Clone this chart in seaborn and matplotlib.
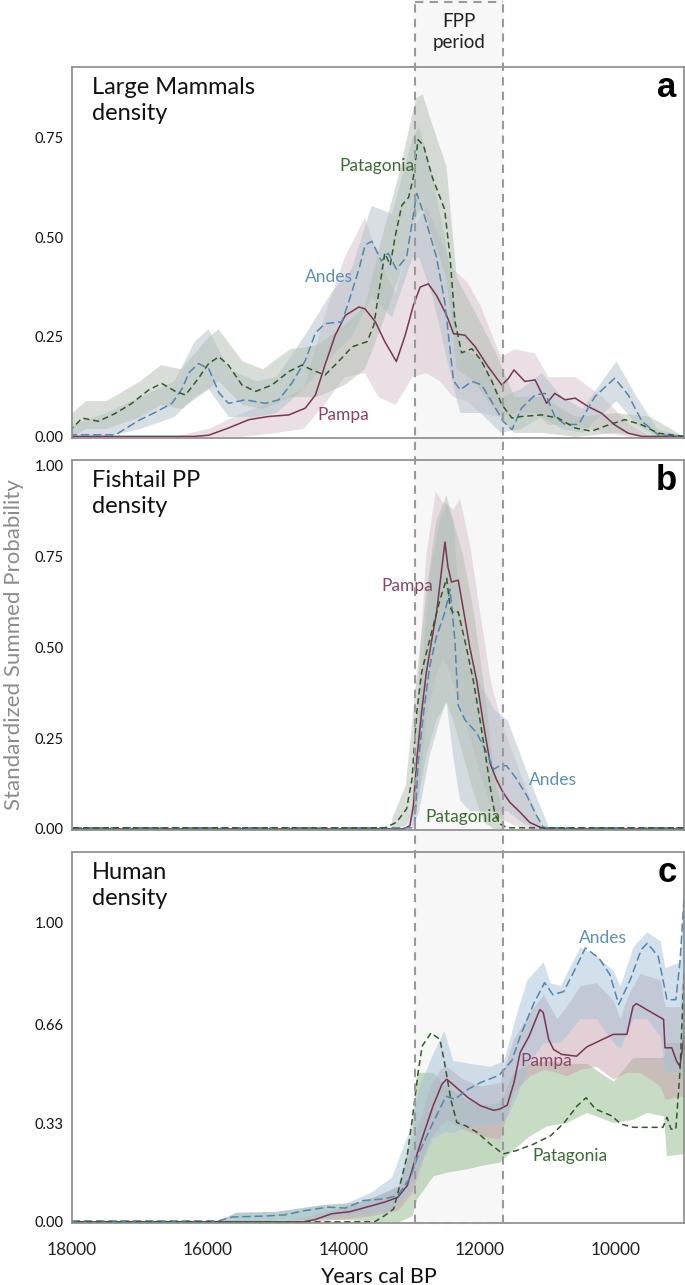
import numpy as np
import pandas as pd
import seaborn as sns
import matplotlib
matplotlib.use('Agg')
import matplotlib.pyplot as plt
from matplotlib.patches import Rectangle
from matplotlib.lines import Line2D

sns.set_style('white')
plt.rcParams['font.family'] = ['Lato', 'DejaVu Sans']

# ---- FPP period (years cal BP)
FPP_START, FPP_END = 12950, 11660
XTICKS = [18000, 16000, 14000, 12000, 10000]

# ---- panel a : large mammals
a_pampa_yr = [18000, 16200, 15990, 15700, 15400, 15110, 14810, 14570, 14420, 14280,
              14130, 13980, 13780, 13690, 13540, 13400, 13230, 13100, 12980, 12880,
              12760, 12640, 12490, 12390, 12220, 12070, 11880, 11680, 11580, 11500,
              11340, 11190, 11020, 10900, 10750, 10600, 10410, 10210, 10020, 9820,
              9620, 9000]
a_pampa = [0, 0, 0.003, 0.021, 0.042, 0.05, 0.054, 0.071, 0.104, 0.179,
           0.254, 0.304, 0.325, 0.32, 0.288, 0.238, 0.188, 0.254, 0.329, 0.375,
           0.383, 0.354, 0.304, 0.258, 0.254, 0.225, 0.175, 0.129, 0.146, 0.167,
           0.138, 0.142, 0.083, 0.108, 0.092, 0.096, 0.075, 0.058, 0.029, 0.008,
           0, 0]
a_andes_yr = [18000, 17360, 17020, 16780, 16530, 16380, 16280, 16140, 15990, 15840,
              15700, 15450, 15160, 14960, 14770, 14570, 14420, 14280, 14030, 13930,
              13780, 13690, 13590, 13450, 13350, 13230, 13080, 12930, 12810, 12640,
              12520, 12390, 12290, 12120, 11980, 11830, 11660, 11530, 11390, 11190,
              11040, 10900, 10750, 10550, 10310, 10020, 9820, 9620, 9380, 9000]
a_andes = [0.004, 0.004, 0.04, 0.06, 0.083, 0.12, 0.16, 0.183, 0.17, 0.11,
           0.083, 0.092, 0.083, 0.092, 0.133, 0.19, 0.26, 0.283, 0.288, 0.338,
           0.42, 0.48, 0.49, 0.44, 0.46, 0.42, 0.45, 0.61, 0.55, 0.45,
           0.34, 0.14, 0.117, 0.138, 0.13, 0.088, 0.038, 0.017, 0.071, 0.104,
           0.108, 0.05, 0.03, 0.03, 0.1, 0.146, 0.104, 0.038, 0.004, 0.0]
a_patag_yr = [18000, 17850, 17610, 17360, 17120, 16870, 16680, 16480, 16330, 16140,
              15990, 15840, 15700, 15500, 15300, 15060, 14810, 14620, 14470, 14280,
              14080, 13880, 13660, 13560, 13490, 13400, 13320, 13250, 13150, 13050,
              12980, 12910, 12830, 12700, 12520, 12440, 12370, 12270, 12120, 11980,
              11830, 11680, 11530, 11390, 11090, 10850, 10600, 10360, 10110, 9870,
              9620, 9380, 9000]
a_patag = [0.02, 0.046, 0.038, 0.058, 0.083, 0.117, 0.133, 0.113, 0.104, 0.146,
           0.183, 0.2, 0.179, 0.129, 0.113, 0.129, 0.163, 0.179, 0.167, 0.154,
           0.188, 0.225, 0.238, 0.28, 0.36, 0.46, 0.43, 0.5, 0.58, 0.6,
           0.65, 0.745, 0.73, 0.65, 0.57, 0.45, 0.29, 0.21, 0.22, 0.19,
           0.14, 0.08, 0.046, 0.05, 0.054, 0.046, 0.021, 0.013, 0.029, 0.042,
           0.029, 0.008, 0.0]

a_pampa_band_yr = [16500, 16000, 15500, 15000, 14600, 14300, 14000, 13700, 13500, 13250,
                   13000, 12800, 12600, 12400, 12200, 12000, 11700, 11500, 11200, 11000,
                   10600, 10200, 9800, 9500]
a_pampa_lo = [0, 0, 0, 0.01, 0.02, 0.08, 0.15, 0.16, 0.1, 0.08,
              0.15, 0.16, 0.14, 0.1, 0.09, 0.06, 0.05, 0.06, 0.06, 0.03,
              0.03, 0.01, 0, 0]
a_pampa_hi = [0, 0.02, 0.06, 0.09, 0.12, 0.3, 0.45, 0.55, 0.45, 0.36,
              0.52, 0.58, 0.5, 0.42, 0.39, 0.33, 0.2, 0.22, 0.21, 0.15,
              0.15, 0.1, 0.03, 0]
a_andes_band_yr = [18000, 17500, 17000, 16500, 16200, 16000, 15700, 15300, 15000, 14600,
                   14200, 13900, 13600, 13300, 13000, 12900, 12700, 12500, 12300, 12000,
                   11700, 11400, 11100, 10800, 10500, 10000, 9700, 9400, 9000]
a_andes_lo = [0, 0, 0.02, 0.05, 0.1, 0.12, 0.05, 0.05, 0.06, 0.12,
              0.2, 0.25, 0.35, 0.3, 0.45, 0.45, 0.35, 0.2, 0.06, 0.06,
              0.01, 0.02, 0.05, 0.02, 0.01, 0.09, 0.03, 0, 0]
a_andes_hi = [0.03, 0.06, 0.1, 0.14, 0.24, 0.27, 0.17, 0.14, 0.15, 0.25,
              0.36, 0.42, 0.58, 0.56, 0.75, 0.78, 0.65, 0.48, 0.22, 0.2,
              0.1, 0.12, 0.16, 0.1, 0.07, 0.19, 0.1, 0.02, 0]
a_patag_band_yr = [18000, 17800, 17500, 17000, 16700, 16400, 16000, 15850, 15500, 15200,
                   14800, 14400, 14000, 13700, 13450, 13200, 12950, 12850, 12700, 12500,
                   12350, 12100, 11800, 11500, 11100, 10600, 10000, 9500, 9000]
a_patag_lo = [0, 0.02, 0.02, 0.05, 0.08, 0.07, 0.12, 0.14, 0.08, 0.07,
              0.1, 0.1, 0.13, 0.17, 0.28, 0.4, 0.55, 0.58, 0.5, 0.4,
              0.17, 0.14, 0.07, 0.01, 0.01, 0, 0.01, 0, 0]
a_patag_hi = [0.06, 0.09, 0.09, 0.14, 0.18, 0.17, 0.25, 0.27, 0.19, 0.17,
              0.22, 0.23, 0.28, 0.33, 0.5, 0.66, 0.85, 0.86, 0.78, 0.68,
              0.4, 0.32, 0.22, 0.1, 0.1, 0.05, 0.06, 0.05, 0]

# ---- panel b : fishtail projectile points
b_pampa_yr = [18000, 13130, 13030, 12980, 12930, 12860, 12790, 12710, 12640, 12560,
              12515, 12470, 12420, 12320, 12250, 12150, 12050, 11950, 11850, 11760,
              11660, 11560, 11410, 11270, 11120, 11020, 9000]
b_pampa = [0, 0, 0.009, 0.064, 0.19, 0.32, 0.43, 0.52, 0.594, 0.72,
           0.79, 0.72, 0.68, 0.685, 0.61, 0.5, 0.41, 0.29, 0.18, 0.137,
           0.1, 0.073, 0.046, 0.018, 0.005, 0, 0]
b_andes_yr = [18000, 12990, 12960, 12910, 12830, 12740, 12640, 12520, 12440, 12370,
              12320, 12220, 12050, 11900, 11800, 11710, 11610, 11460, 11310, 11170,
              11070, 11000, 9000]
b_andes = [0.003, 0.003, 0.01, 0.18, 0.32, 0.447, 0.53, 0.594, 0.66, 0.52,
           0.34, 0.3, 0.265, 0.21, 0.164, 0.174, 0.174, 0.137, 0.091, 0.037,
           0.005, 0.003, 0.003]
b_patag_yr = [18000, 13400, 13230, 13080, 13000, 12930, 12860, 12790, 12690, 12590,
              12490, 12440, 12390, 12320, 12270, 12200, 12100, 12000, 11900, 11830,
              11780, 11710, 11600, 9000]
b_patag = [0.003, 0.003, 0.018, 0.055, 0.137, 0.32, 0.43, 0.484, 0.557, 0.63,
           0.69, 0.61, 0.594, 0.598, 0.557, 0.5, 0.41, 0.3, 0.18, 0.091,
           0.041, 0.014, 0.003, 0.003]

b_pampa_band_yr = [13100, 13000, 12900, 12800, 12660, 12550, 12490, 12400, 12300, 12150,
                   12000, 11850, 11700, 11500, 11300, 11100]
b_pampa_lo = [0, 0, 0.1, 0.3, 0.42, 0.47, 0.45, 0.4, 0.35, 0.25,
              0.15, 0.07, 0.03, 0.01, 0, 0]
b_pampa_hi = [0, 0.05, 0.45, 0.75, 0.93, 0.9, 0.895, 0.88, 0.91, 0.78,
              0.59, 0.41, 0.3, 0.2, 0.1, 0.01]
b_andes_band_yr = [13000, 12900, 12750, 12600, 12500, 12400, 12300, 12150, 12000, 11800,
                   11600, 11400, 11200, 11000]
b_andes_lo = [0, 0.05, 0.2, 0.3, 0.35, 0.2, 0.08, 0.05, 0.05, 0.05,
              0.05, 0.02, 0, 0]
b_andes_hi = [0.02, 0.35, 0.7, 0.85, 0.9, 0.85, 0.6, 0.45, 0.4, 0.33,
              0.3, 0.2, 0.1, 0.01]
b_patag_band_yr = [13300, 13100, 12950, 12800, 12650, 12500, 12400, 12250, 12100, 11950,
                   11800, 11650]
b_patag_lo = [0, 0.01, 0.05, 0.2, 0.3, 0.35, 0.3, 0.2, 0.1, 0.02, 0, 0]
b_patag_hi = [0.03, 0.12, 0.4, 0.65, 0.85, 0.92, 0.85, 0.75, 0.6, 0.4, 0.15, 0.03]

# ---- panel c : humans
c_pampa_yr = [18000, 14600, 14430, 14180, 13910, 13590, 13400, 13210, 13070, 12950,
              12820, 12690, 12560, 12490, 12370, 12180, 11990, 11800, 11710, 11600,
              11500, 11410, 11280, 11120, 11070, 10990, 10920, 10800, 10580, 10430,
              10200, 10040, 9840, 9750, 9700, 9550, 9300, 9280, 9180, 9110,
              9060, 9000]
c_pampa = [0, 0, 0.007, 0.027, 0.034, 0.054, 0.066, 0.082, 0.121, 0.21,
           0.30, 0.388, 0.46, 0.477, 0.454, 0.416, 0.388, 0.373, 0.377, 0.39,
           0.466, 0.566, 0.62, 0.71, 0.70, 0.61, 0.577, 0.56, 0.554, 0.585,
           0.61, 0.627, 0.627, 0.72, 0.73, 0.71, 0.677, 0.582, 0.582, 0.538,
           0.52, 0.62]
c_andes_yr = [18000, 15850, 15650, 15200, 14880, 14560, 14240, 13980, 13720, 13400,
              13210, 13020, 12900, 12690, 12500, 12370, 12180, 11990, 11720, 11530,
              11410, 11210, 11050, 10930, 10770, 10630, 10450, 10250, 10090, 9960,
              9790, 9630, 9540, 9380, 9250, 9120, 9060, 9000]
c_andes = [0.003, 0.003, 0.016, 0.019, 0.023, 0.038, 0.049, 0.046, 0.071, 0.077,
           0.088, 0.15, 0.23, 0.332, 0.42, 0.41, 0.443, 0.466, 0.49, 0.54,
           0.62, 0.73, 0.8, 0.76, 0.77, 0.832, 0.916, 0.882, 0.827, 0.727,
           0.81, 0.91, 0.932, 0.888, 0.743, 0.743, 0.866, 1.08]
c_patag_yr = [18000, 13550, 13400, 13270, 13180, 13070, 12990, 12910, 12850, 12720,
              12590, 12530, 12430, 12340, 12210, 12040, 11850, 11660, 11470, 11210,
              10960, 10760, 10570, 10440, 10300, 10060, 9930, 9740, 9310, 9250,
              9190, 9120, 9060, 9000]
c_patag = [0, 0, 0.021, 0.043, 0.121, 0.221, 0.354, 0.5, 0.588, 0.632,
           0.61, 0.543, 0.41, 0.332, 0.321, 0.299, 0.26, 0.227, 0.238, 0.26,
           0.288, 0.332, 0.388, 0.415, 0.377, 0.354, 0.327, 0.316, 0.316, 0.349,
           0.31, 0.31, 0.5, 0.83]

c_pampa_band_yr = [15000, 14500, 14000, 13600, 13200, 13000, 12740, 12590, 12490, 12250,
                   12000, 11710, 11510, 11270, 11070, 10870, 10730, 10530, 10290, 10040,
                   9940, 9840, 9650, 9350, 9280, 9060, 9000]
c_pampa_lo = [0, 0, 0.01, 0.02, 0.04, 0.1, 0.277, 0.32, 0.343, 0.31,
              0.288, 0.277, 0.432, 0.488, 0.51, 0.5, 0.488, 0.51, 0.52, 0.477,
              0.49, 0.5, 0.5, 0.454, 0.41, 0.42, 0.42]
c_pampa_hi = [0, 0.02, 0.05, 0.08, 0.12, 0.25, 0.45, 0.51, 0.52, 0.477,
              0.454, 0.466, 0.61, 0.7, 0.76, 0.68, 0.72, 0.79, 0.8, 0.74,
              0.68, 0.75, 0.83, 0.81, 0.72, 0.72, 0.9]
c_andes_band_yr = [15900, 15600, 15000, 14400, 14000, 13600, 13300, 13050, 12900, 12700,
                   12530, 12400, 12150, 11850, 11650, 11460, 11310, 11070, 10970, 10820,
                   10530, 10290, 10040, 9940, 9750, 9550, 9350, 9280, 9060, 9000]
c_andes_lo = [0, 0, 0.005, 0.01, 0.02, 0.03, 0.04, 0.1, 0.18, 0.28,
              0.3, 0.3, 0.32, 0.33, 0.33, 0.42, 0.52, 0.6, 0.6, 0.6,
              0.68, 0.68, 0.6, 0.58, 0.68, 0.68, 0.62, 0.5, 0.5, 0.5]
c_andes_hi = [0, 0.03, 0.035, 0.055, 0.06, 0.1, 0.15, 0.3, 0.45, 0.56,
              0.64, 0.54, 0.53, 0.52, 0.54, 0.7, 0.81, 0.87, 0.8, 0.79,
              0.92, 0.89, 0.84, 0.79, 0.92, 0.97, 0.94, 0.85, 0.87, 1.2]
c_patag_band_yr = [15850, 15600, 15000, 14240, 13780, 13460, 13200, 13000, 12930, 12690,
                   12490, 12200, 12000, 11710, 11510, 11270, 11020, 10730, 10430, 10040,
                   9750, 9550, 9300, 9260, 9060, 9000]
c_patag_lo = [0, 0, 0.005, 0.01, 0.005, 0, 0, 0.02, 0.077, 0.154,
              0.166, 0.177, 0.188, 0.2, 0.243, 0.288, 0.321, 0.332, 0.366, 0.332,
              0.343, 0.366, 0.354, 0.221, 0.227, 0.227]
c_patag_hi = [0, 0.032, 0.035, 0.06, 0.066, 0.093, 0.12, 0.3, 0.5, 0.5,
              0.45, 0.41, 0.39, 0.4, 0.5, 0.53, 0.54, 0.53, 0.53, 0.47,
              0.55, 0.55, 0.55, 0.6, 0.6, 0.8]

# ---- styles
COL = {'Pampa': '#7a3550', 'Andes': '#5087b0', 'Patagonia': '#2f5b28'}
TXT = {'Pampa': '#8a4562', 'Andes': '#5b90b8', 'Patagonia': '#3b6b33'}
BAND_C = {'Pampa': '#c9a0ae', 'Andes': '#a4c2d6', 'Patagonia': '#92b88c'}
BAND_AB = {'Pampa': '#d6c0ca', 'Andes': '#b0c1ca', 'Patagonia': '#b2bfb1'}
LS = {'Pampa': '-', 'Andes': (0, (5.5, 2.5)), 'Patagonia': (0, (4, 2.5))}
SPINE = '#8a8a8a'

fig = plt.figure(figsize=(6.85, 12.85), dpi=100)
W = 685.0
H = 1285.0
left, width = 72 / W, 612 / W
ax_a = fig.add_axes([left, 1 - 438 / H, width, 371 / H])
ax_b = fig.add_axes([left, 1 - 830 / H, width, 370 / H])
ax_c = fig.add_axes([left, 1 - 1223 / H, width, 371 / H])


def draw_panel(ax, lines, bands, colors, alpha):
    for name, yr, lo, hi in bands:
        ax.fill_between(yr, lo, hi, color=colors[name], alpha=alpha, lw=0)
    for name, yr, val in lines:
        sns.lineplot(x=yr, y=val, ax=ax, color=COL[name], linestyle=LS[name],
                     lw=1.1, errorbar=None)


draw_panel(ax_a,
           [('Pampa', a_pampa_yr, a_pampa), ('Andes', a_andes_yr, a_andes),
            ('Patagonia', a_patag_yr, a_patag)],
           [('Pampa', a_pampa_band_yr, a_pampa_lo, a_pampa_hi),
            ('Andes', a_andes_band_yr, a_andes_lo, a_andes_hi),
            ('Patagonia', a_patag_band_yr, a_patag_lo, a_patag_hi)], BAND_AB, 0.5)
draw_panel(ax_b,
           [('Pampa', b_pampa_yr, b_pampa), ('Andes', b_andes_yr, b_andes),
            ('Patagonia', b_patag_yr, b_patag)],
           [('Pampa', b_pampa_band_yr, b_pampa_lo, b_pampa_hi),
            ('Andes', b_andes_band_yr, b_andes_lo, b_andes_hi),
            ('Patagonia', b_patag_band_yr, b_patag_lo, b_patag_hi)], BAND_AB, 0.5)
draw_panel(ax_c,
           [('Pampa', c_pampa_yr, c_pampa), ('Andes', c_andes_yr, c_andes),
            ('Patagonia', c_patag_yr, c_patag)],
           [('Patagonia', c_patag_band_yr, c_patag_lo, c_patag_hi),
            ('Pampa', c_pampa_band_yr, c_pampa_lo, c_pampa_hi),
            ('Andes', c_andes_band_yr, c_andes_lo, c_andes_hi)], BAND_C, 0.5)

panels = [
    (ax_a, (-0.004, 0.9275), [0, 0.25, 0.5, 0.75], 'Large Mammals\ndensity', 'a',
     [('Patagonia', 13515, 0.68), ('Andes', 14220, 0.40), ('Pampa', 14015, 0.055)]),
    (ax_b, (-0.003, 1.016), [0, 0.25, 0.5, 0.75, 1.0], 'Fishtail PP\ndensity', 'b',
     [('Pampa', 13066, 0.67), ('Andes', 10926, 0.134), ('Patagonia', 12250, 0.033)]),
    (ax_c, (-0.004, 1.237), [0, 0.33, 0.66, 1.0], 'Human\ndensity', 'c',
     [('Andes', 10191, 0.95), ('Pampa', 11029, 0.537), ('Patagonia', 10676, 0.22)]),
]

for ax, ylim, yt, title, letter, labels in panels:
    ax.set_facecolor('none')
    ax.set_xlim(18000, 9000)
    ax.set_ylim(*ylim)
    ax.set_xticks(XTICKS)
    ax.set_yticks(yt)
    ax.set_yticklabels([f'{v:.2f}' for v in yt])
    ax.set_xlabel('')
    ax.set_ylabel('')
    for sp in ax.spines.values():
        sp.set_color(SPINE)
        sp.set_linewidth(1.2)
    ax.tick_params(axis='x', direction='out', length=8, width=1.1, color=SPINE,
                   labelsize=12.5, labelcolor='#222222', pad=6)
    ax.tick_params(axis='y', direction='out', length=4, width=1.1, color=SPINE,
                   labelsize=10.5, labelcolor='#111111', pad=2)
    ax.text(0.033, 0.972, title, transform=ax.transAxes, ha='left', va='top',
            fontsize=17, linespacing=1.3, color='#111111')
    ax.text(0.988, 0.918, letter, transform=ax.transAxes, ha='right', va='baseline',
            fontsize=25, fontweight='bold', family='Liberation Sans', color='black')
    for name, x, y in labels:
        ax.text(x, y, name, ha='center', va='center', fontsize=12.5, color=TXT[name])

ax_a.tick_params(axis='x', labelbottom=False)
ax_b.tick_params(axis='x', labelbottom=False)
ax_c.set_xlabel('Years cal BP', fontsize=15.5, color='#111111', labelpad=6)

fig.text(14 / W, 1 - 645 / H, 'Standardized Summed Probability', rotation=90,
         ha='center', va='center', fontsize=16, color='#8c8c8c')

# ---- FPP period box across the three panels (positions from the data scale)
to_fig = ax_c.transData + fig.transFigure.inverted()
x0 = to_fig.transform((FPP_START, 0))[0]
x1 = to_fig.transform((FPP_END, 0))[0]
ybot = ax_c.get_position().y0
ytop = 1 - 1.5 / H
fig.add_artist(Rectangle((x0, ybot), x1 - x0, 1 - ybot, transform=fig.transFigure,
                         facecolor='#f7f7f7', edgecolor='none', zorder=-1))
dash = dict(transform=fig.transFigure, color='#9a9a9a', lw=1.5,
            linestyle=(0, (4, 3)), zorder=10)
fig.add_artist(Line2D([x0, x0], [ybot, ytop], **dash))
fig.add_artist(Line2D([x1, x1], [ybot, ytop], **dash))
fig.add_artist(Line2D([x0, x1], [ytop, ytop], **dash))
fig.add_artist(Line2D([x0, x1], [ybot, ybot], **dash))
fig.text((x0 + x1) / 2, 1 - 32 / H, 'FPP\nperiod', ha='center', va='center',
         fontsize=13.5, linespacing=1.25, color='#222222')

fig.savefig('out.png', dpi=100)
